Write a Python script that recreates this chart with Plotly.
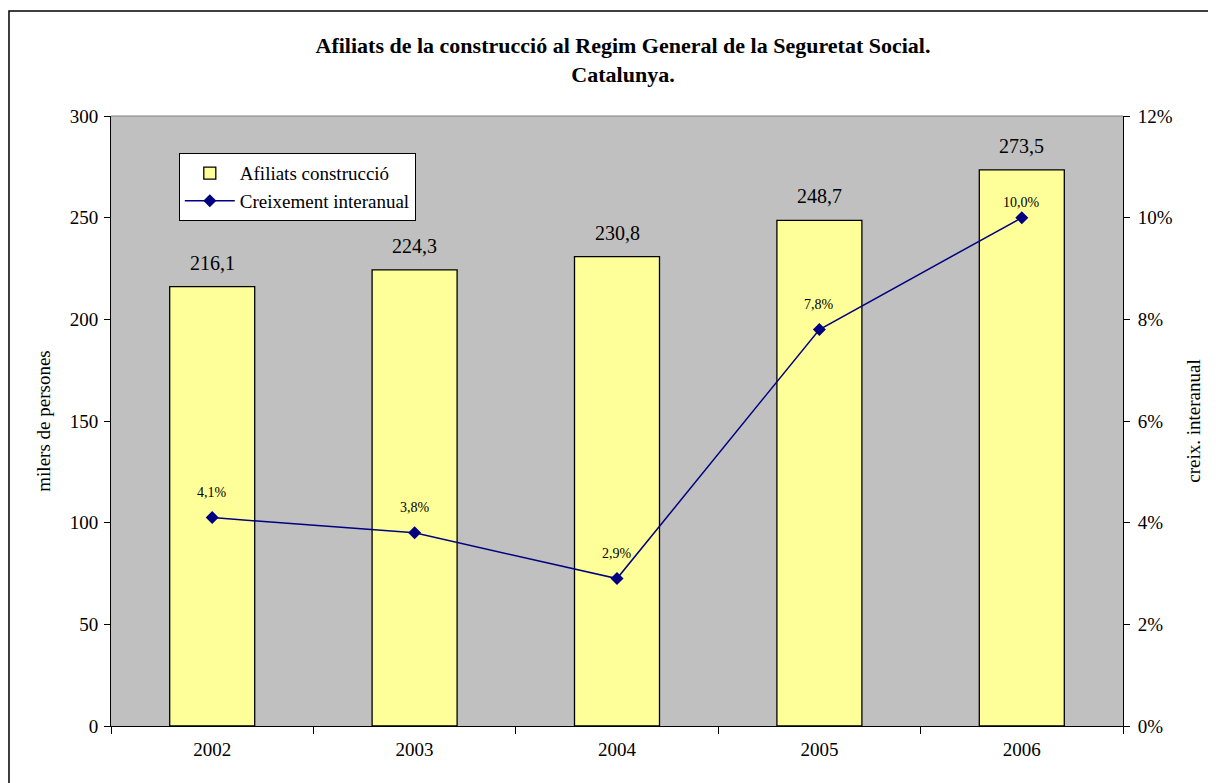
import plotly.graph_objects as go

years = ["2002", "2003", "2004", "2005", "2006"]
afiliats = [216.1, 224.3, 230.8, 248.7, 273.5]
creixement = [0.041, 0.038, 0.029, 0.078, 0.100]
y_ticks = [0, 50, 100, 150, 200, 250, 300]
y2_ticks = [0, 0.02, 0.04, 0.06, 0.08, 0.10, 0.12]

FONT = "Liberation Serif, Times New Roman, serif"

def fmt_comma(v, pct=False):
    if pct:
        return f"{v * 100:.1f}".replace(".", ",") + "%"
    return f"{v:.1f}".replace(".", ",")

fig = go.Figure()
fig.add_trace(go.Bar(
    x=years, y=afiliats, name="Afiliats construcció",
    marker=dict(color="#FFFF99", line=dict(color="black", width=1.3)),
))
fig.add_trace(go.Scatter(
    x=years, y=creixement, name="Creixement interanual", yaxis="y2",
    mode="lines+markers",
    line=dict(color="#000080", width=1.5),
    marker=dict(symbol="diamond", size=10, color="#000080"),
))

# category index positions for labels (category axis)
annotations = []
for i, v in enumerate(afiliats):
    annotations.append(dict(
        x=i, y=v, xref="x", yref="y", text=fmt_comma(v), showarrow=False,
        yshift=24, yanchor="middle",
        font=dict(family=FONT, size=20, color="black"),
    ))
for i, v in enumerate(creixement):
    annotations.append(dict(
        x=i, y=v, xref="x", yref="y2", text=fmt_comma(v, pct=True), showarrow=False,
        yshift=15 if v >= 0.1 else 25, yanchor="middle",
        font=dict(family=FONT, size=14, color="black"),
    ))

fig.update_layout(
    width=1208, height=775,
    margin=dict(l=103, r=93, t=108, b=57),
    paper_bgcolor="white", plot_bgcolor="#C0C0C0",
    font=dict(family=FONT, size=19, color="black"),
    title=dict(
        text="<b>Afiliats de la construcció al Regim General de la Seguretat Social.<br>Catalunya.</b>",
        x=(623 - 8) / 1208, xanchor="center", y=1 - 45 / 775, yanchor="top",
        yref="container",
        font=dict(family=FONT, size=22, color="black"),
    ),
    bargap=0.58,
    showlegend=True,
    legend=dict(
        x=0.067, y=0.939, xanchor="left", yanchor="top",
        bgcolor="white", bordercolor="black", borderwidth=1,
        font=dict(family=FONT, size=19, color="black"),
        tracegroupgap=2, itemwidth=50,
    ),
    annotations=annotations,
    xaxis=dict(
        type="category", categoryorder="array", categoryarray=years,
        range=[-0.5, len(years) - 0.5],
        showgrid=False, showline=True, linecolor="black", linewidth=1,
        ticks="outside", tickson="boundaries", ticklen=7, tickcolor="black",
        tickfont=dict(family=FONT, size=19), tickangle=0,
        ticklabelstandoff=6,
    ),
    yaxis=dict(
        range=[0, 300], tickvals=y_ticks, showgrid=False,
        showline=True, linecolor="black", linewidth=1,
        ticks="outside", ticklen=6, tickcolor="black",
        tickfont=dict(family=FONT, size=19), ticklabelstandoff=2,
        title=dict(text="milers de persones", font=dict(family=FONT, size=19), standoff=14),
        zeroline=False,
    ),
    yaxis2=dict(
        range=[0, 0.12], tickvals=y2_ticks, tickformat=".0%",
        overlaying="y", side="right", showgrid=False,
        showline=True, linecolor="black", linewidth=1,
        ticks="outside", ticklen=6, tickcolor="black",
        tickfont=dict(family=FONT, size=19), ticklabelstandoff=4,
        title=dict(text="creix. interanual", font=dict(family=FONT, size=19), standoff=14),
        zeroline=False,
    ),
)

# gray top border of plot area
fig.add_shape(type="line", xref="paper", yref="paper", x0=0, x1=1, y0=1, y1=1,
              line=dict(color="#808080", width=1))
# outer chart frame
fig.add_shape(type="rect", xref="paper", yref="paper",
              x0=-0.1008, x1=1.2, y0=-0.3, y1=1.172,
              line=dict(color="black", width=1.5))

fig.write_html("out.html")
